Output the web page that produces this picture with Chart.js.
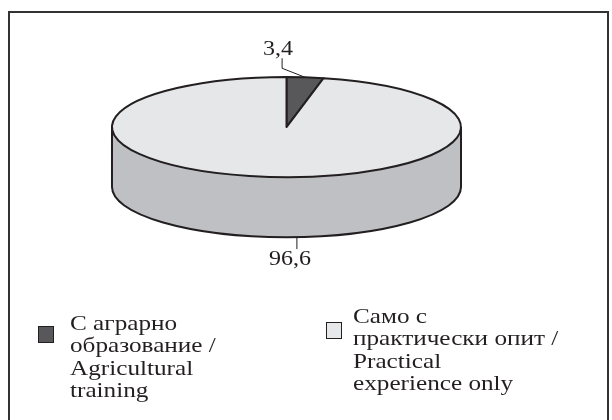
<!DOCTYPE html>
<html>
<head>
<meta charset="utf-8">
<script src="https://cdn.jsdelivr.net/npm/chart.js@4.4.1/dist/chart.umd.min.js"></script>
<style>
html,body{margin:0;padding:0;background:#fff;width:612px;height:420px;overflow:hidden;}
#frame{position:absolute;left:8px;top:11px;width:601px;height:440px;border:2px solid #333;box-sizing:border-box;pointer-events:none;}
#wrap{position:absolute;left:0;top:0;width:612px;height:500px;}
.leg{position:absolute;font-family:"Liberation Serif","Times New Roman",serif;font-size:21px;line-height:22.3px;color:#231f20;white-space:nowrap;transform:scaleX(1.2);transform-origin:0 0;}
.box{position:absolute;width:14px;height:15px;border:1px solid #231f20;}
</style>
</head>
<body>
<div id="wrap"><canvas id="pie"></canvas></div>
<div id="frame"></div>
<div id="legend"></div>
<script>
const categories=[
  ["С аграрно","образование /","Agricultural","training"],
  ["Само с","практически опит /","Practical","experience only"]
];
const shares=[3.4,96.6];
const topColors=["#58585a","#e6e7e9"];
const sideColors=["#3d3d3f","#bfc0c3"];

// legend (html, multi-line)
const legendPos=[{box:[38,326],text:[70,312]},{box:[326,322],text:[353,305]}];
const legendEl=document.getElementById("legend");
categories.forEach((lines,i)=>{
  const b=document.createElement("div");
  b.className="box";
  b.style.left=legendPos[i].box[0]+"px";
  b.style.top=legendPos[i].box[1]+"px";
  b.style.background=topColors[i];
  legendEl.appendChild(b);
  const t=document.createElement("div");
  t.className="leg";
  t.style.left=legendPos[i].text[0]+"px";
  t.style.top=legendPos[i].text[1]+"px";
  t.innerHTML=lines.join("<br>");
  legendEl.appendChild(t);
});

function wideText(ctx,txt,x,y){
  ctx.save();
  ctx.translate(x,y);
  ctx.scale(1.2,1);
  ctx.fillText(txt,0,0);
  ctx.restore();
}

/* 3D pie: uses the arcs chart.js computed, squashes them into an ellipse and adds a wall */
const pie3d={
  id:"pie3d",
  beforeDatasetsDraw(chart,args,opts){
    const ctx=chart.ctx;
    const arcs=chart.getDatasetMeta(0).data;
    const ds=chart.data.datasets[0];
    const R=arcs[0].outerRadius;
    const cx=arcs[0].x;
    const rx=R,ry=R*opts.tilt;
    const cy=arcs[0].y-R+ry;
    const d=opts.depth;
    ctx.save();
    ctx.lineWidth=opts.lineWidth;
    ctx.strokeStyle=opts.edge;
    ctx.lineJoin="round";

    // front wall
    arcs.forEach((a,i)=>{
      const s=Math.max(a.startAngle,0),e=Math.min(a.endAngle,Math.PI);
      if(e<=s)return;
      ctx.beginPath();
      ctx.ellipse(cx,cy,rx,ry,0,s,e);
      ctx.ellipse(cx,cy+d,rx,ry,0,e,s,true);
      ctx.closePath();
      ctx.fillStyle=sideColors[i];
      ctx.fill();
    });
    ctx.beginPath();
    ctx.moveTo(cx+rx,cy);
    ctx.lineTo(cx+rx,cy+d);
    ctx.ellipse(cx,cy+d,rx,ry,0,0,Math.PI);
    ctx.lineTo(cx-rx,cy);
    ctx.stroke();

    // top face
    arcs.forEach((a,i)=>{
      ctx.beginPath();
      ctx.moveTo(cx,cy);
      ctx.ellipse(cx,cy,rx,ry,0,a.startAngle,a.endAngle);
      ctx.closePath();
      ctx.fillStyle=ds.backgroundColor[i];
      ctx.fill();
      ctx.stroke();
    });

    // value labels with leader lines
    ctx.lineWidth=1;
    ctx.strokeStyle=opts.edge;
    ctx.fillStyle="#231f20";
    ctx.font='20px "Liberation Serif"';
    ctx.textAlign="center";
    ctx.textBaseline="alphabetic";
    arcs.forEach((a,i)=>{
      const m=(a.startAngle+a.endAngle)/2;
      const txt=String(ds.data[i]).replace(".",",");
      if(Math.sin(m)<0){
        const px=cx+rx*Math.cos(m),py=cy+ry*Math.sin(m);
        ctx.beginPath();
        ctx.moveTo(px,py);
        ctx.lineTo(px-23,py-9);
        ctx.lineTo(px-23,py-19);
        ctx.stroke();
        wideText(ctx,txt,px-27,py-22);
      }else{
        const lx=cx+rx*Math.cos(m)+opts.frontShift;
        const ly=cy+d+ry*Math.sqrt(1-Math.pow((lx-cx)/rx,2));
        ctx.beginPath();
        ctx.moveTo(lx,ly);
        ctx.lineTo(lx,ly+12);
        ctx.stroke();
        wideText(ctx,txt,lx-7,ly+28);
      }
    });
    ctx.restore();
    return false;
  }
};

new Chart(document.getElementById("pie"),{
  type:"pie",
  data:{
    labels:categories.map(c=>c.join(" ")),
    datasets:[{
      data:shares,
      backgroundColor:topColors,
      borderWidth:0
    }]
  },
  options:{
    responsive:true,
    maintainAspectRatio:false,
    animation:false,
    layout:{padding:{left:112,right:151,top:77,bottom:74}},
    plugins:{
      legend:{display:false},
      tooltip:{enabled:false},
      pie3d:{tilt:0.287,depth:60,lineWidth:2,edge:"#231f20",frontShift:29}
    }
  },
  plugins:[pie3d]
});
</script>
</body>
</html>
